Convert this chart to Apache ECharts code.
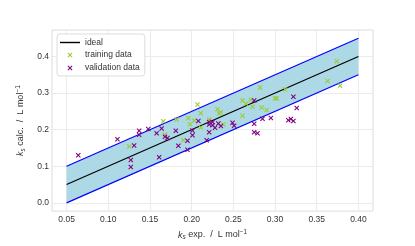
<!DOCTYPE html>
<html>
<head>
<meta charset="utf-8">
<script src="https://cdn.jsdelivr.net/npm/echarts@6/dist/echarts.min.js"></script>
<style>
html,body{margin:0;padding:0;background:#fff;}
#c{width:415px;height:246px;}
</style>
</head>
<body>
<div id="c"></div>
<script>
// ---- data ----
var xTicks = [0.05, 0.10, 0.15, 0.20, 0.25, 0.30, 0.35, 0.40];
var yTicks = [0.0, 0.1, 0.2, 0.3, 0.4];

var idealX = [0.05, 0.40];
var idealY = [0.05, 0.40];
var bandLower = [0.00, 0.35];
var bandUpper = [0.10, 0.45];

var trainX = [0.125,0.166,0.168,0.182,0.190,0.196,0.198,0.203,0.207,0.211,0.211,0.221,0.231,0.235,0.233,0.238,0.261,0.265,0.271,0.273,0.261,0.282,0.284,0.290,0.300,0.302,0.312,0.363,0.374,0.378];
var trainY = [0.154,0.223,0.187,0.228,0.171,0.231,0.215,0.225,0.269,0.245,0.206,0.228,0.256,0.248,0.244,0.214,0.280,0.271,0.282,0.263,0.238,0.315,0.261,0.254,0.285,0.286,0.310,0.333,0.387,0.320];

var validX = [0.064,0.111,0.127,0.127,0.131,0.137,0.137,0.148,0.158,0.161,0.164,0.168,0.171,0.181,0.184,0.195,0.195,0.201,0.201,0.208,0.218,0.221,0.225,0.221,0.225,0.221,0.228,0.232,0.235,0.249,0.251,0.275,0.275,0.285,0.295,0.275,0.279,0.316,0.319,0.322,0.322,0.326];
var validY = [0.130,0.174,0.117,0.098,0.157,0.197,0.186,0.202,0.190,0.125,0.203,0.181,0.177,0.197,0.156,0.170,0.145,0.198,0.185,0.224,0.171,0.221,0.221,0.214,0.212,0.193,0.205,0.217,0.210,0.219,0.211,0.280,0.216,0.230,0.232,0.193,0.190,0.226,0.229,0.224,0.290,0.259];

// ---- build ----
function zip(a, b) { return a.map(function (v, i) { return [v, b[i]]; }); }

var X_PATH = 'path://M0,1.5L1.5,0L5,3.5L8.5,0L10,1.5L6.5,5L10,8.5L8.5,10L5,6.5L1.5,10L0,8.5L3.5,5Z';
var X_ICON = 'path://M-5,-5L-5,-5M15,15L15,15M0,1.5L1.5,0L5,3.5L8.5,0L10,1.5L6.5,5L10,8.5L8.5,10L5,6.5L1.5,10L0,8.5L3.5,5Z';
var LINE_ICON = 'path://M0,0L20,0L20,1.4L0,1.4Z';

var GREEN = '#9acd32';
var PURPLE = '#800080';
var FONT = 'Liberation Sans';
var TXT = '#333333';

var bandData = idealX.map(function (x, i) { return [x, bandLower[i], bandUpper[i]]; });

var richName = {
  m: { fontSize: 9, fontFamily: FONT, color: TXT },
  i: { fontSize: 9, fontFamily: FONT, color: TXT, fontStyle: 'italic' },
  sub: { fontSize: 6.5, fontFamily: FONT, color: TXT, fontStyle: 'italic', verticalAlign: 'bottom', padding: [5, 0, 0, 0] },
  sup: { fontSize: 6.5, fontFamily: FONT, color: TXT, verticalAlign: 'top', padding: [0, 0, 4, 0] }
};

var chart = echarts.init(document.getElementById('c'), null, { renderer: 'canvas' });
chart.setOption({
  animation: false,
  backgroundColor: '#ffffff',
  grid: {
    left: 52, right: 42, top: 30, bottom: 27,
    show: true, borderColor: '#dcdcdc', borderWidth: 1, backgroundColor: 'transparent'
  },
  xAxis: {
    type: 'value', min: 0.0325, max: 0.4175,
    axisLine: { show: false },
    axisTick: { show: false, customValues: xTicks },
    splitLine: { show: true, lineStyle: { color: '#ebebeb', width: 1 } },
    axisLabel: {
      customValues: xTicks, margin: 4, color: TXT, fontFamily: FONT, fontSize: 8.5,
      formatter: function (v) { return v.toFixed(2); }
    },
    name: '{i|k}{sub|s}{m| exp.  /  L mol}{sup|\u22121}',
    nameLocation: 'middle', nameGap: 15,
    nameTextStyle: { rich: richName }
  },
  yAxis: {
    type: 'value', min: -0.0225, max: 0.4725,
    axisLine: { show: false },
    axisTick: { show: false, customValues: yTicks },
    splitLine: { show: true, lineStyle: { color: '#ebebeb', width: 1 } },
    axisLabel: {
      customValues: yTicks, margin: 3, color: TXT, fontFamily: FONT, fontSize: 8.5,
      formatter: function (v) { return v.toFixed(1); }
    },
    name: '{i|k}{sub|s}{m| calc.  /  L mol}{sup|\u22121}',
    nameLocation: 'middle', nameGap: 23, nameRotate: 90,
    nameTextStyle: { rich: richName }
  },
  legend: {
    orient: 'vertical', left: 57, top: 34,
    padding: [4, 5, 3, 3], itemGap: 3, itemWidth: 20, itemHeight: 10,
    backgroundColor: '#ffffff', borderColor: '#dddddd', borderWidth: 1, borderRadius: 3,
    textStyle: { fontFamily: FONT, fontSize: 8.5, color: TXT },
    data: [
      { name: 'ideal', icon: LINE_ICON, itemStyle: { color: '#000000', borderWidth: 0 } },
      { name: 'training data', icon: X_ICON, itemStyle: { borderWidth: 0 } },
      { name: 'validation data', icon: X_ICON, itemStyle: { borderWidth: 0 } }
    ]
  },
  series: [
    {
      name: 'band', type: 'custom', z: 1, silent: true,
      data: bandData,
      encode: { x: 0, y: [1, 2] },
      renderItem: function (params, api) {
        if (params.dataIndex !== 0) return null;
        var pts = [];
        var i;
        for (i = 0; i < bandData.length; i++) pts.push(api.coord([bandData[i][0], bandData[i][1]]));
        for (i = bandData.length - 1; i >= 0; i--) pts.push(api.coord([bandData[i][0], bandData[i][2]]));
        return { type: 'polygon', shape: { points: pts }, style: { fill: '#add8e6', stroke: null } };
      }
    },
    {
      name: 'lower', type: 'line', z: 2, symbol: 'none', silent: true,
      data: zip(idealX, bandLower), lineStyle: { color: '#0000ff', width: 1.2 }
    },
    {
      name: 'upper', type: 'line', z: 2, symbol: 'none', silent: true,
      data: zip(idealX, bandUpper), lineStyle: { color: '#0000ff', width: 1.2 }
    },
    {
      name: 'ideal', type: 'line', z: 3, symbol: 'none',
      data: zip(idealX, idealY), lineStyle: { color: '#000000', width: 1.2 },
      itemStyle: { color: '#000000' }
    },
    {
      name: 'training data', type: 'scatter', z: 4, symbol: X_PATH, symbolSize: 5,
      data: zip(trainX, trainY), itemStyle: { color: GREEN, opacity: 1 }
    },
    {
      name: 'validation data', type: 'scatter', z: 4, symbol: X_PATH, symbolSize: 5,
      data: zip(validX, validY), itemStyle: { color: PURPLE, opacity: 1 }
    }
  ]
});
</script>
</body>
</html>
